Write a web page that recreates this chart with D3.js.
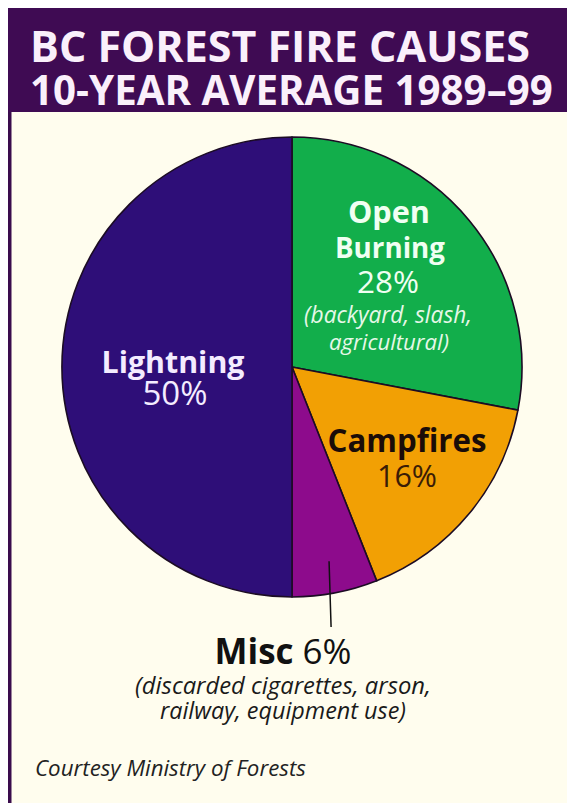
<!DOCTYPE html>
<html>
<head>
<meta charset="utf-8">
<script src="https://cdn.jsdelivr.net/npm/d3@7"></script>
<style>
  html, body { margin: 0; padding: 0; background: #ffffff; }
  svg { display: block; }
</style>
</head>
<body>
<svg id="chart" width="567" height="803"></svg>
<script>
// Fire causes, clockwise from 12 o'clock
const causes   = ["Open Burning", "Campfires", "Misc", "Lightning"];
const shares   = [28, 16, 6, 50];
const colors   = ["#12ae4b", "#f2a004", "#8d0b8c", "#2e0e78"];

const titleLines = ["BC FOREST FIRE CAUSES", "10-YEAR AVERAGE 1989\u201399"];
const notes = {
  "Open Burning": ["(backyard, slash,", "agricultural)"],
  "Misc": ["(discarded cigarettes, arson,", "railway, equipment use)"]
};
const credit = "Courtesy Ministry of Forests";

const W = 567, H = 803;
const svg = d3.select("#chart");
const FONT = "'Open Sans', 'Noto Sans', sans-serif";

// frame
svg.append("rect").attr("x", 8).attr("y", 112).attr("width", W - 8).attr("height", H - 112)
  .attr("fill", "#fffdee");
svg.append("rect").attr("x", 8).attr("y", 112).attr("width", 3.5).attr("height", H - 112)
  .attr("fill", "#3a0c4c");
svg.append("rect").attr("x", 8).attr("y", 8).attr("width", W - 8).attr("height", 104)
  .attr("fill", "#3f0b53");

// scale a text element's font size so it spans the given width
function fit(sel, width) {
  const node = sel.node();
  const fs = parseFloat(sel.attr("font-size"));
  const w = node.getComputedTextLength();
  sel.attr("font-size", (fs * width / w).toFixed(2));
  return sel;
}

// title
const titleY = [62, 105], titleW = [500, 523];
titleLines.forEach((t, i) => {
  const s = svg.append("text").attr("x", 30).attr("y", titleY[i])
    .attr("font-family", FONT).attr("font-weight", 700).attr("font-size", 48)
    .attr("fill", "#faf0fb").text(t);
  fit(s, titleW[i]);
});

// pie
const cx = 292, cy = 367, R = 230;
const pie = d3.pie().sort(null).value(d => d)(shares);
const arc = d3.arc().innerRadius(0).outerRadius(R);
const g = svg.append("g").attr("transform", `translate(${cx},${cy})`);
g.selectAll("path").data(pie).join("path")
  .attr("d", arc)
  .attr("fill", (d, i) => colors[i])
  .attr("stroke", "#1c0c24")
  .attr("stroke-width", 1.6)
  .attr("stroke-linejoin", "round");

// leader line for the small Misc slice
const miscArc = pie[causes.indexOf("Misc")];
const miscMid = (miscArc.startAngle + miscArc.endAngle) / 2;
const lx = Math.sin(miscMid) * (R * 0.86);
const ly = -Math.cos(miscMid) * (R * 0.86);
svg.append("line")
  .attr("x1", cx + lx).attr("y1", cy + ly)
  .attr("x2", cx + lx + 2).attr("y2", 627)
  .attr("stroke", "#111").attr("stroke-width", 1.5);

// slice labels: [text, centre x, baseline y, width, weight, style, colour]
const label = (t, x, y, w, weight, style, fill) => {
  const s = svg.append("text").attr("x", x).attr("y", y)
    .attr("text-anchor", "middle").attr("font-family", FONT)
    .attr("font-weight", weight).attr("font-style", style)
    .attr("font-size", 24).attr("fill", fill).text(t);
  return fit(s, w);
};

const pct = v => v + "%";

// Open Burning
label("Open", 389, 223, 82, 700, "normal", "#f0fff2");
label("Burning", 390, 258, 110, 700, "normal", "#f0fff2");
label(pct(shares[0]), 388, 293, 62, 400, "normal", "#f0fff2");
label(notes["Open Burning"][0], 388, 323, 168, 400, "italic", "#e6f8e8");
label(notes["Open Burning"][1], 389, 350, 120, 400, "italic", "#e6f8e8");

// Campfires
label("Campfires", 407, 452, 159, 700, "normal", "#1a0c08");
label(pct(shares[1]), 407, 487, 60, 400, "normal", "#3a1c06");

// Lightning
label("Lightning", 173, 373, 143, 700, "normal", "#f4ecff");
label(pct(shares[3]), 175, 405, 65, 400, "normal", "#f4ecff");

// Misc
const misc = svg.append("text").attr("x", 283).attr("y", 664)
  .attr("text-anchor", "middle").attr("font-family", FONT)
  .attr("font-size", 24).attr("fill", "#111");
misc.append("tspan").attr("font-weight", 700).text("Misc");
misc.append("tspan").attr("font-weight", 400).text(" " + pct(shares[2]));
fit(misc, 137);
label(notes["Misc"][0], 283, 694, 296, 400, "italic", "#1a1a1a");
label(notes["Misc"][1], 283, 719, 246, 400, "italic", "#1a1a1a");

// credit
const c = svg.append("text").attr("x", 35).attr("y", 776)
  .attr("font-family", FONT).attr("font-style", "italic")
  .attr("font-size", 18).attr("fill", "#222").text(credit);
fit(c, 271);
</script>
</body>
</html>
